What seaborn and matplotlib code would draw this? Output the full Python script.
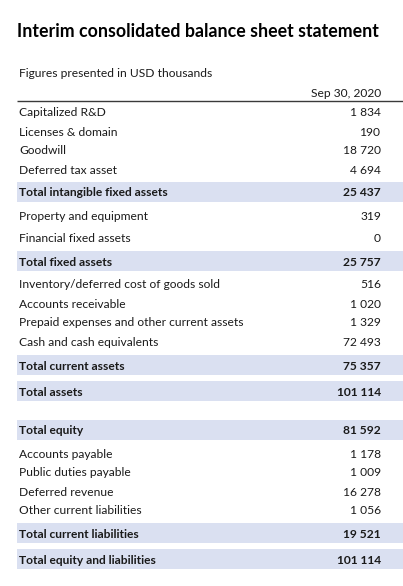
import matplotlib
matplotlib.use("Agg")
import matplotlib.pyplot as plt
import seaborn as sns
import numpy as np

# ---------------- data ----------------
title = "Interim consolidated balance sheet statement"
subtitle = "Figures presented in USD thousands"
column_header = "Sep 30, 2020"

labels = [
    "Capitalized R&D",
    "Licenses & domain",
    "Goodwill",
    "Deferred tax asset",
    "Total intangible fixed assets",
    "Property and equipment",
    "Financial fixed assets",
    "Total fixed assets",
    "Inventory/deferred cost of goods sold",
    "Accounts receivable",
    "Prepaid expenses and other current assets",
    "Cash and cash equivalents",
    "Total current assets",
    "Total assets",
    "Total equity",
    "Accounts payable",
    "Public duties payable",
    "Deferred revenue",
    "Other current liabilities",
    "Total current liabilities",
    "Total equity and liabilities",
]
values = [1834, 190, 18720, 4694, 25437, 319, 0, 25757, 516, 1020, 1329,
          72493, 75357, 101114, 81592, 1178, 1009, 16278, 1056, 19521, 101114]
is_total = [False, False, False, False, True, False, False, True, False, False,
            False, False, True, True, True, False, False, False, False, True, True]

# ---------------- layout ----------------
W, H = 403, 586
first_row = 112
row_steps = [19, 19, 19, 23, 23, 23, 23, 23, 19, 19, 19, 24, 26, 39, 23, 19, 19, 19, 23, 26]
centers = np.concatenate([[first_row], first_row + np.cumsum(row_steps)])

band_color = "#DAE0F1"
text_color = "#1a1a1a"
font = ["Lato", "DejaVu Sans"]
body_size = 8.65

sns.set_theme(style="white")
plt.rcParams["font.family"] = font

fig = plt.figure(figsize=(W / 100, H / 100), dpi=100)
ax = fig.add_axes([0, 0, 1, 1])
ax.set_xlim(0, W)
ax.set_ylim(H, 0)
ax.axis("off")

left_x, label_x, value_x, right_x = 17, 19, 381, W

ax.text(left_x, 37, title, fontsize=12.75, fontweight="bold", color="black",
        va="baseline", ha="left")
ax.text(label_x, 77.3, subtitle, fontsize=body_size, color=text_color, va="baseline", ha="left")
ax.text(value_x, 97.3, column_header, fontsize=body_size, color=text_color, va="baseline", ha="right")
ax.plot([left_x, right_x], [101, 101], color="#3a3a3a", lw=1.0, solid_capstyle="butt")

band_y = [c for c, t in zip(centers, is_total) if t]
ax.barh(band_y, right_x - left_x, left=left_x, height=20, color=band_color,
        edgecolor="none", zorder=0)

for lab, val, tot, cy in zip(labels, values, is_total, centers):
    weight = "bold" if tot else "normal"
    ax.text(label_x, cy + 4.5, lab, fontsize=body_size, fontweight=weight, color=text_color,
            va="baseline", ha="left")
    ax.text(value_x, cy + 4.5, f"{val:,}".replace(",", " "), fontsize=body_size, fontweight=weight,
            color=text_color, va="baseline", ha="right")

fig.savefig("out.png", dpi=100, facecolor="white")
